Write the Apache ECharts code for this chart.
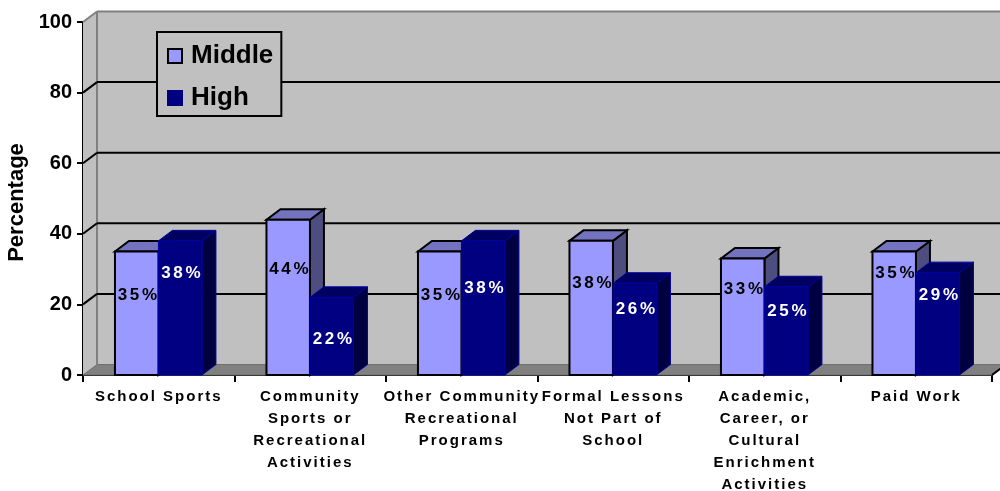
<!DOCTYPE html>
<html>
<head>
<meta charset="utf-8">
<style>html,body{margin:0;padding:0;background:#fff}#c{width:1000px;height:491px}</style>
<script src="https://cdn.jsdelivr.net/npm/echarts@6/dist/echarts.min.js"></script>
</head>
<body>
<div id="c"></div>
<script>
const categories = ['School Sports','Community\nSports or\nRecreational\nActivities','Other Community\nRecreational\nPrograms','Formal Lessons\nNot Part of\nSchool','Academic,\nCareer, or\nCultural\nEnrichment\nActivities','Paid Work'];
const middleValues = [35,44,35,38,33,35];
const highValues = [38,22,38,26,25,29];
const middleLabelLevels = [22.5,30,22.5,25.9,24.2,28.7];
const highLabelLevels = [28.7,10,24.5,18.6,18,22.5];
const yTicks = [0,20,40,60,80,100];

// Reference text is letter-spaced; canvas letterSpacing keeps it real text.
const spacingFor = f => { const m = /(\d+(?:\.\d+)?)px/.exec(f); const s = m ? +m[1] : 20; return s === 17 ? '2.6px' : s === 15 ? '2px' : '0px'; };
const P = CanvasRenderingContext2D.prototype;
const ft = P.fillText, mt = P.measureText;
P.fillText = function (...a) { this.letterSpacing = spacingFor(this.font); return ft.apply(this, a); };
P.measureText = function (...a) { this.letterSpacing = spacingFor(this.font); return mt.apply(this, a); };

const DX = 14, DY = 10.5;
const FONT = '"Liberation Sans", Arial, sans-serif';
const poly = (points, fill, stroke, lw) => ({ type:'polygon', shape:{points}, style:{fill, stroke, lineWidth:lw, lineJoin:'miter'} });
const line = (x1,y1,x2,y2,stroke,lw) => ({ type:'line', shape:{x1,y1,x2,y2}, style:{stroke, lineWidth:lw} });

function renderWall(params, api) {
  const v = api.value(1), cs = params.coordSys;
  const y = api.coord([0, v])[1], l = cs.x, r = cs.x + cs.width, b = cs.y + cs.height, t = cs.y;
  const kids = [];
  if (params.dataIndex === 0) {
    kids.push(poly([[l+DX,t-DY],[r+DX,t-DY],[r+DX,b-DY],[l+DX,b-DY]], '#c0c0c0', null, 0));
    kids.push(poly([[l,t],[l+DX,t-DY],[l+DX,b-DY],[l,b]], '#c0c0c0', null, 0));
    kids.push(poly([[l,b],[l+DX,b-DY],[r+DX,b-DY],[r,b]], '#808080', '#707070', 1));
    kids.push(line(l+DX,t-DY,l+DX,b-DY,'#808080',2));
    kids.push(line(l+DX,t-DY,r+DX,t-DY,'#808080',2));
    kids.push(line(l,t,l+DX,t-DY,'#808080',2));
    kids.push(line(r,b,r+DX,b-DY,'#000',2));
  } else if (v < 100) {
    kids.push(line(l,y,l+DX,y-DY,'#000',2));
    kids.push(line(l+DX,y-DY,r+DX,y-DY,'#000',2));
  }
  return { type:'group', children:kids };
}
function makeBox(slot, front, top, side, stroke, lw) {
  return function (params, api) {
    const i = api.value(0), v = api.value(1);
    const band = api.size([1,0])[0];
    const c0 = api.coord([i, 0]), c1 = api.coord([i, v]);
    const w = band * 0.287, x0 = c0[0] - band/2 + band*0.211 + slot*w, x1 = x0 + w;
    const yb = c0[1], yt = c1[1];
    return { type:'group', children:[
      poly([[x1,yt],[x1+DX,yt-DY],[x1+DX,yb-DY],[x1,yb]], side, stroke, lw),
      poly([[x0,yt],[x0+DX,yt-DY],[x1+DX,yt-DY],[x1,yt]], top, stroke, lw),
      poly([[x0,yt],[x1,yt],[x1,yb],[x0,yb]], front, stroke, lw)
    ]};
  };
}
function makeLabel(slot, values, color) {
  return function (params, api) {
    const i = api.value(0), lv = api.value(1);
    const band = api.size([1,0])[0];
    const c = api.coord([i, lv]);
    const w = band * 0.287, x = c[0] - band/2 + band*0.211 + slot*w + w/2 + 2;
    return { type:'text', style:{ text: values[i] + '%', x, y:c[1], align:'center', verticalAlign:'middle', fill:color, font:'bold 17px '+FONT } };
  };
}
const pairs = a => a.map((v,i) => [i,v]);

const chart = echarts.init(document.getElementById('c'), null, {renderer:'canvas'});
chart.setOption({
  animation:false,
  backgroundColor:'#fff',
  grid:{left:83,right:8,top:22,bottom:116,containLabel:false,outerBoundsMode:'none'},
  legend:{
    data:['Middle','High'], orient:'vertical', left:157, top:32, padding:[11,8,5,10],
    itemWidth:14, itemHeight:14, itemGap:16, icon:'rect', selectedMode:false,
    backgroundColor:'#c0c0c0', borderColor:'#000', borderWidth:2,
    textStyle:{fontFamily:FONT,fontWeight:'bold',fontSize:26,color:'#000',padding:[0,0,0,4]}
  },
  xAxis:{
    type:'category', data:categories, boundaryGap:true,
    axisLine:{show:true,lineStyle:{color:'#000',width:2}},
    axisTick:{show:true,alignWithLabel:false,length:7,lineStyle:{color:'#000',width:2}},
    axisLabel:{interval:0,hideOverlap:false,margin:11,lineHeight:22,fontFamily:FONT,fontWeight:'bold',fontSize:15,color:'#000'}
  },
  yAxis:{
    type:'value', min:0, max:100, interval:20, name:'Percentage', nameLocation:'middle', nameGap:43,
    nameTextStyle:{fontFamily:FONT,fontWeight:'bold',fontSize:22,color:'#000',padding:[0,8,0,0]},
    splitLine:{show:false},
    axisLine:{show:true,lineStyle:{color:'#000',width:2}},
    axisTick:{show:true,length:6,lineStyle:{color:'#000',width:2}},
    axisLabel:{margin:11,fontFamily:FONT,fontWeight:'bold',fontSize:20,color:'#000'}
  },
  series:[
    {type:'custom',name:'Wall',z:1,silent:true,renderItem:renderWall,data:pairs(yTicks).map(p=>[0,p[1]])},
    {type:'custom',name:'Middle',z:2,renderItem:makeBox(0,'#9999ff','#7373bf','#4d4d80','#000',2),data:pairs(middleValues),itemStyle:{color:'#9999ff',borderColor:'#000',borderWidth:2}},
    {type:'custom',name:'High',z:3,renderItem:makeBox(1,'#000080','#000060','#000040','#0000a0',1),data:pairs(highValues),itemStyle:{color:'#000080',borderColor:'#000080',borderWidth:1}},
    {type:'custom',name:'Middle labels',z:4,silent:true,renderItem:makeLabel(0,middleValues,'#000'),data:pairs(middleLabelLevels)},
    {type:'custom',name:'High labels',z:4,silent:true,renderItem:makeLabel(1,highValues,'#fff'),data:pairs(highLabelLevels)}
  ]
});
</script>
</body>
</html>
